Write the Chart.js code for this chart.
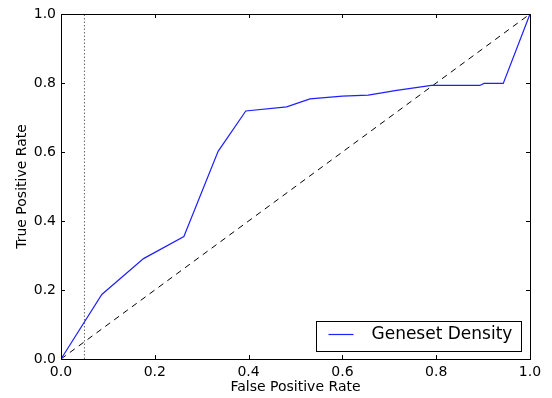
<!DOCTYPE html>
<html>
<head>
<meta charset="utf-8">
<script src="https://cdn.jsdelivr.net/npm/chart.js@4.4.1/dist/chart.umd.min.js"></script>
<style>
  html, body { margin: 0; padding: 0; background: #fff; }
  canvas { display: block; }
</style>
</head>
<body>
<canvas id="rocChart" width="552" height="398"></canvas>
<script>
// ROC curve for the geneset density score
const fpr = [0, 0.087, 0.176, 0.262, 0.335, 0.394, 0.481, 0.531, 0.600, 0.655, 0.700, 0.712, 0.790, 0.893, 0.902, 0.943, 1.0];
const tpr = [0, 0.187, 0.291, 0.355, 0.602, 0.719, 0.731, 0.754, 0.762, 0.765, 0.775, 0.778, 0.793, 0.793, 0.799, 0.799, 1.0];
const chanceX = [0, 1];
const chanceY = [0, 1];
const cutoffX = [0.05, 0.05];
const cutoffY = [0, 1];
const axisTicks = [0, 0.2, 0.4, 0.6, 0.8, 1.0];
const seriesLabel = 'Geneset Density';

const curveColor = '#1f1fff';
const fontFamily = '"DejaVu Sans", sans-serif';

function toPoints(xs, ys) {
    let returnVal = [];
    for (let i = 0; i < xs.length; i++) {
        returnVal.push({x: xs[i], y: ys[i]});
    }
    return returnVal;
}

// box, inward ticks on all four sides and the legend in the lower right
const frameAndLegend = {
    id: 'frameAndLegend',
    afterDatasetsDraw(chart) {
        const ctx = chart.ctx;
        const area = chart.chartArea;
        const xs = chart.scales.x;
        const ys = chart.scales.y;
        const tickLen = 4;
        ctx.save();
        ctx.strokeStyle = '#000';
        ctx.lineWidth = 1;
        ctx.setLineDash([]);
        ctx.beginPath();
        for (const v of axisTicks) {
            const px = Math.round(xs.getPixelForValue(v)) + 0.5;
            ctx.moveTo(px, area.bottom); ctx.lineTo(px, area.bottom - tickLen);
            ctx.moveTo(px, area.top); ctx.lineTo(px, area.top + tickLen);
            const py = Math.round(ys.getPixelForValue(v)) + 0.5;
            ctx.moveTo(area.left, py); ctx.lineTo(area.left + tickLen, py);
            ctx.moveTo(area.right, py); ctx.lineTo(area.right - tickLen, py);
        }
        ctx.stroke();
        ctx.strokeRect(Math.round(area.left) + 0.5, Math.round(area.top) + 0.5,
            Math.round(area.right - area.left), Math.round(area.bottom - area.top));

        // legend
        const ds = chart.data.datasets[0];
        const boxW = 205, boxH = 30;
        const bx = Math.round(area.right - 9 - boxW) + 0.5;
        const by = Math.round(area.bottom - 8 - boxH) + 0.5;
        ctx.fillStyle = '#fff';
        ctx.fillRect(bx, by, boxW, boxH);
        ctx.strokeStyle = '#000';
        ctx.strokeRect(bx, by, boxW, boxH);
        ctx.strokeStyle = ds.borderColor;
        ctx.lineWidth = 1.2;
        ctx.beginPath();
        ctx.moveTo(bx + 12, by + 13);
        ctx.lineTo(bx + 37, by + 13);
        ctx.stroke();
        ctx.fillStyle = '#000';
        ctx.font = '17px ' + fontFamily;
        ctx.textBaseline = 'middle';
        ctx.textAlign = 'left';
        ctx.fillText(ds.label, bx + 55, by + 13);
        ctx.restore();
    }
};

const ctx = document.getElementById('rocChart').getContext('2d');
const rocChart = new Chart(ctx, {
    type: 'scatter',
    plugins: [frameAndLegend],
    data: {
        datasets: [
            {
                label: seriesLabel,
                data: toPoints(fpr, tpr),
                showLine: true,
                borderColor: curveColor,
                borderWidth: 1.2,
                pointRadius: 0,
                tension: 0
            },
            {
                label: 'chance',
                data: toPoints(chanceX, chanceY),
                showLine: true,
                borderColor: '#000',
                borderWidth: 1,
                borderDash: [6, 5],
                pointRadius: 0
            },
            {
                label: 'cutoff',
                data: toPoints(cutoffX, cutoffY),
                showLine: true,
                borderColor: '#666',
                borderWidth: 1,
                borderDash: [1.5, 2],
                pointRadius: 0
            }
        ]
    },
    options: {
        responsive: false,
        animation: false,
        devicePixelRatio: 1,
        layout: {
            padding: {top: 14, right: 22, left: 0, bottom: 0}
        },
        plugins: {
            legend: {display: false},
            tooltip: {enabled: false}
        },
        scales: {
            x: {
                type: 'linear',
                min: 0,
                max: 1,
                border: {display: false},
                grid: {display: false, drawTicks: false},
                afterFit: (scale) => { scale.height = 39; },
                afterBuildTicks: (scale) => { scale.ticks = axisTicks.map(v => ({value: v})); },
                ticks: {
                    padding: 5,
                    color: '#000',
                    font: {family: fontFamily, size: 14},
                    maxRotation: 0,
                    callback: (value) => value.toFixed(1)
                },
                title: {
                    display: true,
                    text: 'False Positive Rate',
                    color: '#000',
                    font: {family: fontFamily, size: 14},
                    padding: {top: 0, bottom: 2}
                }
            },
            y: {
                type: 'linear',
                min: 0,
                max: 1,
                border: {display: false},
                grid: {display: false, drawTicks: false},
                afterFit: (scale) => { scale.width = 61; },
                afterBuildTicks: (scale) => { scale.ticks = axisTicks.map(v => ({value: v})); },
                ticks: {
                    padding: 5,
                    color: '#000',
                    font: {family: fontFamily, size: 14},
                    callback: (value) => value.toFixed(1)
                },
                title: {
                    display: true,
                    text: 'True Positive Rate',
                    color: '#000',
                    font: {family: fontFamily, size: 14},
                    padding: {top: 14, bottom: 0}
                }
            }
        }
    }
});
</script>
</body>
</html>
